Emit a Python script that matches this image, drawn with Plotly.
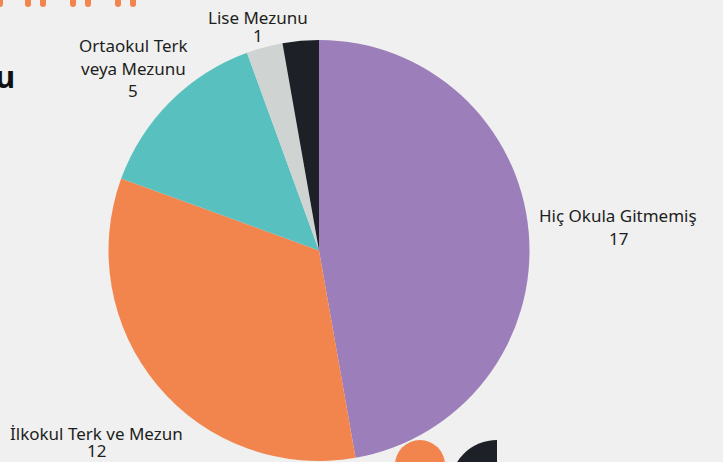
import plotly.graph_objects as go

# ---- data ----
labels = ["Hiç Okula Gitmemiş", "İlkokul Terk ve Mezun", "Ortaokul Terk veya Mezunu", "Lise Mezunu", "Diğer"]
values = [17, 12, 5, 1, 1]
colors = ["#9b7eba", "#f2854d", "#58c0be", "#cfd4d2", "#1e2028"]
show_label = [True, True, True, True, False]
label_lines = [["Hiç Okula Gitmemiş"], ["İlkokul Terk ve Mezun"], ["Ortaokul Terk", "veya Mezunu"], ["Lise Mezunu"], []]

# label layout (pixel positions of line centers)
label_pos = [(618, [215, 238]), (96, [433, 450]), (133, [45, 68, 90]), (258, [17, 35]), None]

W, H = 723, 462
BG = "#eff0ef"
TXT = "#1d1e21"
FONT = "Noto Sans"
ORANGE = "#f2854d"
DARK = "#1e2028"

fig = go.Figure()

# hidden pixel axes for annotations / decoration
fig.update_layout(
    xaxis=dict(range=[0, W], domain=[0, 1], visible=False, fixedrange=True),
    yaxis=dict(range=[H, 0], domain=[0, 1], visible=False, fixedrange=True),
)

# decorative arches at top (only leg ends visible)
for lx in [0, 28, 43, 73, 88, 118, 133]:
    fig.add_trace(go.Scatter(
        x=[lx, lx], y=[-10, 4], mode="lines",
        line=dict(color=ORANGE, width=6),
        hoverinfo="skip", showlegend=False))
    fig.add_trace(go.Scatter(
        x=[lx], y=[4], mode="markers",
        marker=dict(size=6, color=ORANGE, line=dict(width=0)),
        hoverinfo="skip", showlegend=False))

fig.add_trace(go.Pie(
    labels=labels, values=values, marker=dict(colors=colors, line=dict(width=0)),
    sort=False, direction="clockwise", rotation=0,
    textinfo="none", textposition="none", hoverinfo="label+value",
    domain=dict(x=[108 / W, 530 / W], y=[1 / H, 422 / H]),
    showlegend=False,
))

annotations = []
for i, lab in enumerate(labels):
    if not show_label[i] or label_pos[i] is None:
        continue
    cx, ys = label_pos[i]
    lines = label_lines[i] + [str(values[i])]
    for line, y in zip(lines, ys):
        annotations.append(dict(x=cx, y=y, xref="x", yref="y", text=line, showarrow=False,
                                xanchor="center", yanchor="middle",
                                font=dict(family=FONT, size=17, color=TXT)))

# cut-off title fragment at left
annotations.append(dict(x=17, y=76, xref="x", yref="y", text="<b>u</b>", showarrow=False,
                        xanchor="right", yanchor="middle",
                        font=dict(family=FONT, size=31, color="#111111")))

shapes = [
    dict(type="circle", xref="x", yref="y", x0=395, x1=445, y0=440, y1=490,
         fillcolor=ORANGE, line=dict(width=0), layer="above"),
    dict(type="circle", xref="x", yref="y", x0=450, x1=544, y0=440, y1=534,
         fillcolor=DARK, line=dict(width=0), layer="above"),
    dict(type="rect", xref="x", yref="y", x0=497, x1=550, y0=430, y1=470,
         fillcolor=BG, line=dict(width=0), layer="above"),
]

fig.update_layout(
    width=W, height=H, margin=dict(l=0, r=0, t=0, b=0),
    paper_bgcolor=BG, plot_bgcolor=BG,
    annotations=annotations, shapes=shapes,
    font=dict(family=FONT, color=TXT),
)

fig.write_html("out.html", config={"displayModeBar": False},
               post_script="document.body.style.margin='0';document.body.style.background='%s';" % BG)
